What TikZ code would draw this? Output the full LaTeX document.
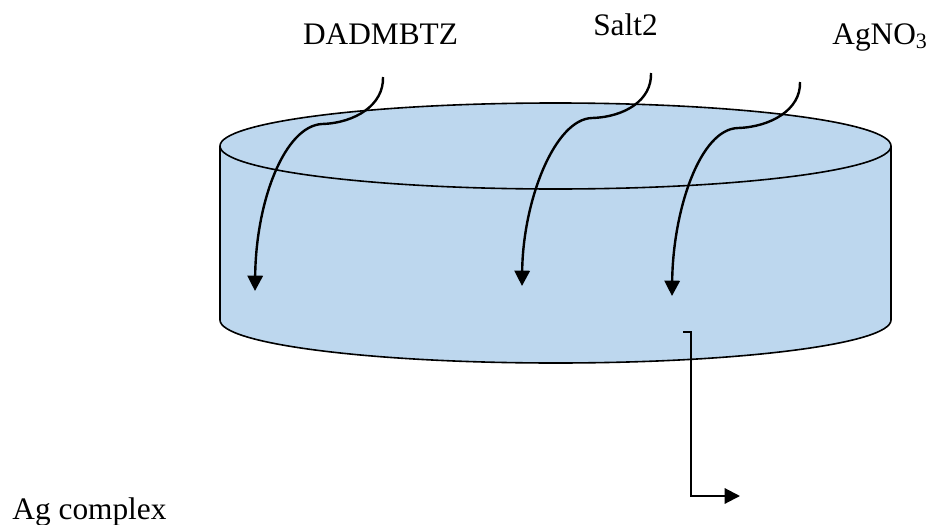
\documentclass[tikz,border=0pt]{standalone}
\usepackage{fontspec}
\setmainfont{Liberation Serif}
\usetikzlibrary{arrows.meta}
\definecolor{liquid}{HTML}{BDD7EE}
\begin{document}
\begin{tikzpicture}[x=0.75pt,y=-0.75pt,
  lbl/.style={font=\fontsize{23.5}{28}\selectfont, inner sep=0pt, anchor=base},
  feed/.style={line width=1.8pt, -{Triangle[length=11.5pt,width=11.5pt]}},
  outflow/.style={line width=1.6pt, -{Triangle[length=11.5pt,width=11.5pt]}},
  rim/.style={draw=black, line width=1.2pt}]
\useasboundingbox (0,0) rectangle (929,525);
% vessel body
\fill[liquid] (220,146) -- (220,320)
  arc[start angle=180,end angle=360,x radius=251.625pt,y radius=32.25pt]
  -- (891,146) -- cycle;
\fill[liquid] (555.5,146) ellipse[x radius=251.625pt,y radius=32.25pt];
\draw[rim] (220,146) -- (220,320)
  arc[start angle=180,end angle=360,x radius=251.625pt,y radius=32.25pt]
  -- (891,146);
\draw[rim] (555.5,146) ellipse[x radius=251.625pt,y radius=32.25pt];
% labels
\node[lbl] (dad) at (380.5,44) {DADMBTZ};
\node[lbl] (salt) at (625.5,35) {Salt2};
\node[lbl] (agno) at (880,44) {AgNO\textsubscript{3}};
\node[lbl] (agc) at (89.5,519) {Ag complex};
% feed points
\coordinate (s1) at (383,77);  \coordinate (t1) at (255,291);
\coordinate (s2) at (651,73);  \coordinate (t2) at (522,286);
\coordinate (s3) at (800,82);  \coordinate (t3) at (672,296);
\coordinate (o1) at (683,332); \coordinate (o2) at (740,496);
\draw[feed] (s1) .. controls (384,105) and (355,123) .. (322,124)
  .. controls (285,126) and (256,200) .. (t1);
\draw[feed] (s2) .. controls (652,100) and (625,117) .. (592,118)
  .. controls (555,119) and (523,200) .. (t2);
\draw[feed] (s3) .. controls (801,110) and (770,127) .. (738,128)
  .. controls (700,129) and (673,210) .. (t3);
\draw[outflow] (o1) -- ++(8,0) |- (o2);
\end{tikzpicture}
\end{document}
